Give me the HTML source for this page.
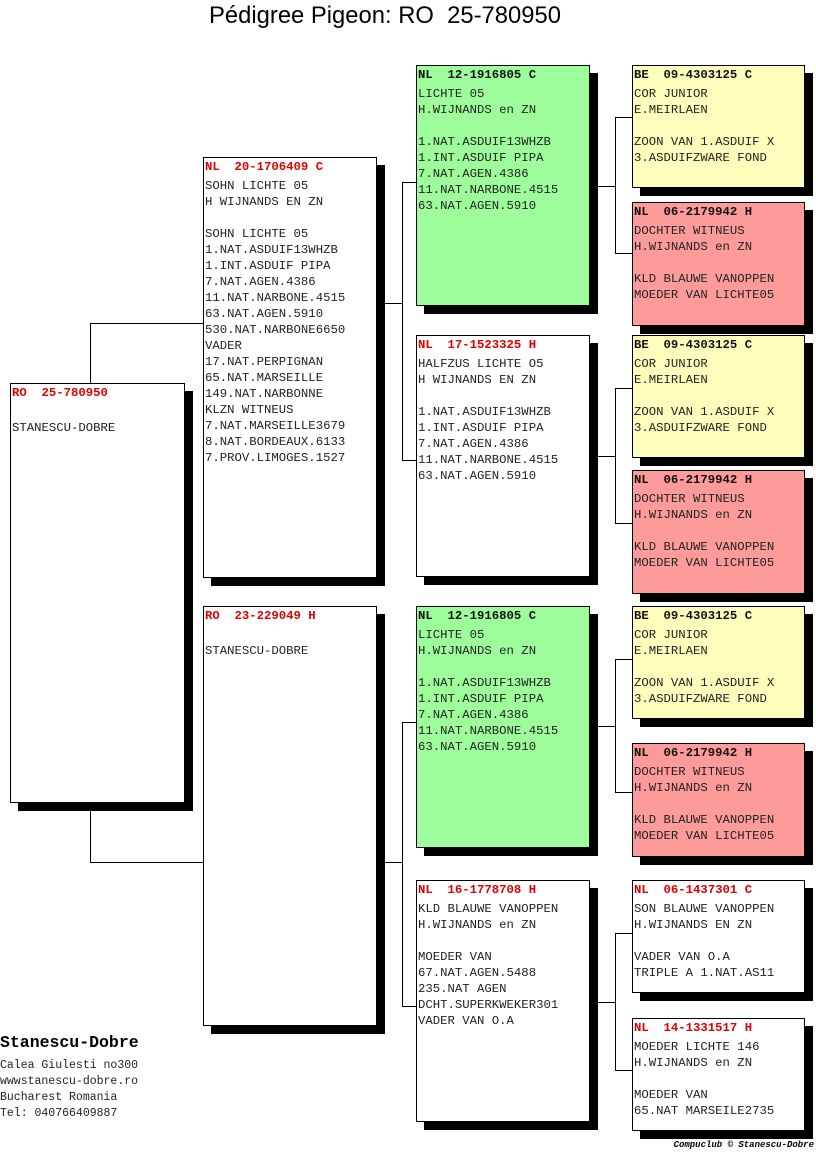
<!DOCTYPE html>
<html><head><meta charset="utf-8"><style>
body{margin:0;width:816px;height:1172px;background:#fff;position:relative;overflow:hidden;font-family:"Liberation Mono",monospace;}
.b{position:absolute;box-sizing:border-box;border:1px solid #000;background:#fff;box-shadow:8px 8px 0 #000;font-size:12.3px;color:#222;}
.h{position:absolute;left:1px;top:1px;line-height:16px;font-weight:bold;color:#e00000;white-space:pre;}
.k{color:#111}
.t{position:absolute;left:1px;top:20px;margin:0;font-family:inherit;font-size:inherit;line-height:16px;white-space:pre;}
.g{background:#9dfd9a}.y{background:#fefebc}.r{background:#fd9b9b}
.l{position:absolute;background:#000}
</style></head><body>
<div style="position:absolute;left:0;width:770px;top:2px;text-align:center;font-family:'Liberation Sans',sans-serif;font-size:23.8px;">Pédigree Pigeon: RO&nbsp;&nbsp;25-780950</div>

<div class="l" style="left:90px;top:323px;width:1px;height:60px"></div>
<div class="l" style="left:90px;top:323px;width:113px;height:1px"></div>
<div class="l" style="left:90px;top:810px;width:1px;height:52px"></div>
<div class="l" style="left:90px;top:862px;width:113px;height:1px"></div>

<div class="l" style="left:384px;top:303px;width:18px;height:1px"></div>
<div class="l" style="left:402px;top:182px;width:1px;height:279px"></div>
<div class="l" style="left:402px;top:182px;width:14px;height:1px"></div>
<div class="l" style="left:402px;top:460px;width:14px;height:1px"></div>

<div class="l" style="left:384px;top:862px;width:18px;height:1px"></div>
<div class="l" style="left:402px;top:722px;width:1px;height:285px"></div>
<div class="l" style="left:402px;top:722px;width:14px;height:1px"></div>
<div class="l" style="left:402px;top:1006px;width:14px;height:1px"></div>

<div class="l" style="left:597px;top:186px;width:18px;height:1px"></div>
<div class="l" style="left:615px;top:117px;width:1px;height:137px"></div>
<div class="l" style="left:615px;top:117px;width:17px;height:1px"></div>
<div class="l" style="left:615px;top:253px;width:17px;height:1px"></div>

<div class="l" style="left:597px;top:456px;width:18px;height:1px"></div>
<div class="l" style="left:615px;top:388px;width:1px;height:136px"></div>
<div class="l" style="left:615px;top:388px;width:17px;height:1px"></div>
<div class="l" style="left:615px;top:523px;width:17px;height:1px"></div>

<div class="l" style="left:597px;top:726px;width:18px;height:1px"></div>
<div class="l" style="left:615px;top:659px;width:1px;height:134px"></div>
<div class="l" style="left:615px;top:659px;width:17px;height:1px"></div>
<div class="l" style="left:615px;top:792px;width:17px;height:1px"></div>

<div class="l" style="left:597px;top:1002px;width:18px;height:1px"></div>
<div class="l" style="left:615px;top:933px;width:1px;height:138px"></div>
<div class="l" style="left:615px;top:933px;width:17px;height:1px"></div>
<div class="l" style="left:615px;top:1070px;width:17px;height:1px"></div>

<div class="b" style="left:10px;top:383px;width:175px;height:420px"><div class="h">RO  25-780950</div><pre class="t" style="top:36px">STANESCU-DOBRE</pre></div>

<div class="b" style="left:203px;top:157px;width:174px;height:421px"><div class="h">NL  20-1706409 C</div><pre class="t">SOHN LICHTE 05
H WIJNANDS EN ZN

SOHN LICHTE 05
1.NAT.ASDUIF13WHZB
1.INT.ASDUIF PIPA
7.NAT.AGEN.4386
11.NAT.NARBONE.4515
63.NAT.AGEN.5910
530.NAT.NARBONE6650
VADER
17.NAT.PERPIGNAN
65.NAT.MARSEILLE
149.NAT.NARBONNE
KLZN WITNEUS
7.NAT.MARSEILLE3679
8.NAT.BORDEAUX.6133
7.PROV.LIMOGES.1527</pre></div>
<div class="b" style="left:203px;top:606px;width:174px;height:420px"><div class="h">RO  23-229049 H</div><pre class="t" style="top:36px">STANESCU-DOBRE</pre></div>

<div class="b g" style="left:416px;top:65px;width:174px;height:241px"><div class="h k">NL  12-1916805 C</div><pre class="t">LICHTE 05
H.WIJNANDS en ZN

1.NAT.ASDUIF13WHZB
1.INT.ASDUIF PIPA
7.NAT.AGEN.4386
11.NAT.NARBONE.4515
63.NAT.AGEN.5910</pre></div>
<div class="b" style="left:416px;top:335px;width:174px;height:242px"><div class="h">NL  17-1523325 H</div><pre class="t">HALFZUS LICHTE O5
H WIJNANDS EN ZN

1.NAT.ASDUIF13WHZB
1.INT.ASDUIF PIPA
7.NAT.AGEN.4386
11.NAT.NARBONE.4515
63.NAT.AGEN.5910</pre></div>
<div class="b g" style="left:416px;top:606px;width:174px;height:242px"><div class="h k">NL  12-1916805 C</div><pre class="t">LICHTE 05
H.WIJNANDS en ZN

1.NAT.ASDUIF13WHZB
1.INT.ASDUIF PIPA
7.NAT.AGEN.4386
11.NAT.NARBONE.4515
63.NAT.AGEN.5910</pre></div>
<div class="b" style="left:416px;top:880px;width:174px;height:242px"><div class="h">NL  16-1778708 H</div><pre class="t">KLD BLAUWE VANOPPEN
H.WIJNANDS en ZN

MOEDER VAN
67.NAT.AGEN.5488
235.NAT AGEN
DCHT.SUPERKWEKER301
VADER VAN O.A</pre></div>

<div class="b y" style="left:632px;top:65px;width:173px;height:123px"><div class="h k">BE  09-4303125 C</div><pre class="t">COR JUNIOR
E.MEIRLAEN

ZOON VAN 1.ASDUIF X
3.ASDUIFZWARE FOND</pre></div>
<div class="b r" style="left:632px;top:202px;width:173px;height:124px"><div class="h k">NL  06-2179942 H</div><pre class="t">DOCHTER WITNEUS
H.WIJNANDS en ZN

KLD BLAUWE VANOPPEN
MOEDER VAN LICHTE05</pre></div>
<div class="b y" style="left:632px;top:335px;width:173px;height:123px"><div class="h k">BE  09-4303125 C</div><pre class="t">COR JUNIOR
E.MEIRLAEN

ZOON VAN 1.ASDUIF X
3.ASDUIFZWARE FOND</pre></div>
<div class="b r" style="left:632px;top:470px;width:173px;height:124px"><div class="h k">NL  06-2179942 H</div><pre class="t">DOCHTER WITNEUS
H.WIJNANDS en ZN

KLD BLAUWE VANOPPEN
MOEDER VAN LICHTE05</pre></div>
<div class="b y" style="left:632px;top:606px;width:173px;height:113px"><div class="h k">BE  09-4303125 C</div><pre class="t">COR JUNIOR
E.MEIRLAEN

ZOON VAN 1.ASDUIF X
3.ASDUIFZWARE FOND</pre></div>
<div class="b r" style="left:632px;top:743px;width:173px;height:114px"><div class="h k">NL  06-2179942 H</div><pre class="t">DOCHTER WITNEUS
H.WIJNANDS en ZN

KLD BLAUWE VANOPPEN
MOEDER VAN LICHTE05</pre></div>
<div class="b" style="left:632px;top:880px;width:173px;height:113px"><div class="h">NL  06-1437301 C</div><pre class="t">SON BLAUWE VANOPPEN
H.WIJNANDS EN ZN

VADER VAN O.A
TRIPLE A 1.NAT.AS11</pre></div>
<div class="b" style="left:632px;top:1018px;width:173px;height:113px"><div class="h">NL  14-1331517 H</div><pre class="t">MOEDER LICHTE 146
H.WIJNANDS en ZN

MOEDER VAN
65.NAT MARSEILE2735</pre></div>

<div style="position:absolute;left:0;top:1033px;font-weight:bold;font-size:16.5px;">Stanescu-Dobre</div>
<div style="position:absolute;left:0;top:1058px;font-size:11.5px;line-height:16px;color:#222;white-space:pre;font-family:'Liberation Mono',monospace;">Calea Giulesti no300
wwwstanescu-dobre.ro
Bucharest Romania
Tel: 040766409887</div>
<div style="position:absolute;right:2px;top:1140px;font-size:9px;font-style:italic;font-weight:bold;">Compuclub © Stanescu-Dobre</div>
</body></html>
